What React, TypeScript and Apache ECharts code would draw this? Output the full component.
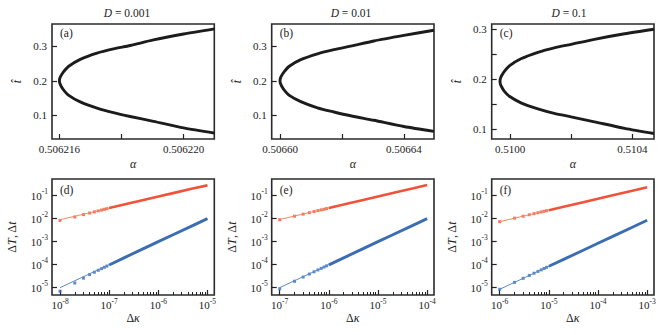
import React, { useEffect, useRef } from 'react';
import * as echarts from 'echarts';

const FONT = 'Liberation Serif';
const INK = '#222';
const RED = '#f0533a';
const RED_FIT = '#f48a62';
const BLUE = '#3a6db3';
const BLUE_FIT = '#5a8bcc';

// ---- top row: fold curves t-hat vs alpha ----
const titles = ['0.001', '0.01', '0.1'];
const panelTags = ['(a)', '(b)', '(c)', '(d)', '(e)', '(f)'];

const alphaA = [0.506216, 0.506216015, 0.50621605, 0.50621613, 0.5062163, 0.50621667, 0.50621721, 0.50621774, 0.50621828, 0.50621903, 0.50622, 0.506221];
const tUpperA = [0.2015, 0.208, 0.215, 0.226, 0.242, 0.262, 0.28, 0.292, 0.302, 0.318, 0.335, 0.35];
const tLowerA = [0.1985, 0.192, 0.185, 0.174, 0.158, 0.139, 0.121, 0.108, 0.097, 0.083, 0.064, 0.049];

const alphaB = [0.5066, 0.50660015, 0.5066005, 0.5066013, 0.506603, 0.5066067, 0.5066121, 0.5066174, 0.5066228, 0.5066303, 0.50664, 0.5066497];
const tUpperB = [0.2015, 0.208, 0.215, 0.226, 0.242, 0.261, 0.278, 0.29, 0.3, 0.315, 0.331, 0.346];
const tLowerB = [0.1985, 0.192, 0.185, 0.174, 0.158, 0.14, 0.122, 0.11, 0.099, 0.086, 0.068, 0.054];

const alphaC = [0.509967, 0.5099685, 0.509972, 0.50998, 0.5099977, 0.5100355, 0.510091, 0.5101445, 0.5101995, 0.510276, 0.510375, 0.510471];
const tUpperC = [0.197, 0.202, 0.207, 0.215, 0.227, 0.241, 0.254, 0.263, 0.27, 0.28, 0.291, 0.3];
const tLowerC = [0.195, 0.19, 0.185, 0.177, 0.166, 0.153, 0.141, 0.132, 0.125, 0.115, 0.102, 0.0915];

const topX = [
  { min: 0.50621576, max: 0.50622099, ticks: [0.506216, 0.506218, 0.50622], labels: [0.506216, 0.50622], digits: 6 },
  { min: 0.50659731, max: 0.50664973, ticks: [0.5066, 0.50662, 0.50664], labels: [0.5066, 0.50664], digits: 5 },
  { min: 0.5099398, max: 0.510471, ticks: [0.51, 0.5102, 0.5104], labels: [0.51, 0.5104], digits: 4 },
];
const topY = [
  { min: 0.032, max: 0.364, ticks: [0.1, 0.2, 0.3], labels: [0.1, 0.2, 0.3] },
  { min: 0.032, max: 0.364, ticks: [0.1, 0.2, 0.3], labels: [0.1, 0.2, 0.3] },
  { min: 0.0806, max: 0.3106, ticks: [0.1, 0.15, 0.2, 0.25, 0.3], labels: [0.1, 0.2, 0.3] },
];
const topCurves = [
  { alpha: alphaA, up: tUpperA, low: tLowerA },
  { alpha: alphaB, up: tUpperB, low: tLowerB },
  { alpha: alphaC, up: tUpperC, low: tLowerC },
];

// ---- bottom row: scaling of Delta T, Delta t vs Delta kappa ----
const kappaDotsD = [1e-8, 2e-8, 3e-8, 4e-8, 5e-8, 6e-8, 7e-8, 8e-8, 9e-8];
const kappaBandD = [1e-7, 2e-7, 5e-7, 1e-6, 2e-6, 5e-6, 1e-5];
const redDotsD = [8.4e-3, 1.18e-2, 1.5e-2, 1.76e-2, 1.98e-2, 2.18e-2, 2.37e-2, 2.55e-2, 2.72e-2];
const redBandD = [2.88e-2, 4.1e-2, 6.5e-2, 9.1e-2, 0.129, 0.203, 0.28];
const blueDotsD = [7e-6, 1.6e-5, 2.6e-5, 3.7e-5, 4.7e-5, 5.7e-5, 6.7e-5, 7.7e-5, 8.7e-5];
const blueBandD = [9.7e-5, 1.98e-4, 5e-4, 1e-3, 2e-3, 5e-3, 1e-2];
const fitKappaD = [1e-8, 1e-5];
const redFitD = [9.0e-3, 0.28];
const blueFitD = [1e-5, 1e-2];

const kappaDotsE = [1e-7, 2e-7, 3e-7, 4e-7, 5e-7, 6e-7, 7e-7, 8e-7, 9e-7];
const kappaBandE = [1e-6, 2e-6, 5e-6, 1e-5, 2e-5, 5e-5, 1e-4];
const redDotsE = [9e-3, 1.28e-2, 1.57e-2, 1.82e-2, 2.03e-2, 2.23e-2, 2.41e-2, 2.57e-2, 2.73e-2];
const redBandE = [2.9e-2, 4.1e-2, 6.5e-2, 9.2e-2, 0.13, 0.205, 0.29];
const blueDotsE = [9e-6, 1.9e-5, 2.9e-5, 3.9e-5, 4.9e-5, 5.9e-5, 6.9e-5, 7.9e-5, 8.9e-5];
const blueBandE = [9.8e-5, 1.98e-4, 5e-4, 1e-3, 2e-3, 5e-3, 1e-2];
const fitKappaE = [1e-7, 1e-4];
const redFitE = [9.2e-3, 0.29];
const blueFitE = [1e-5, 1e-2];

const kappaDotsF = [1e-6, 2e-6, 3e-6, 4e-6, 5e-6, 6e-6, 7e-6, 8e-6, 9e-6];
const kappaBandF = [1e-5, 2e-5, 5e-5, 1e-4, 2e-4, 5e-4, 1e-3];
const redDotsF = [7.4e-3, 1.05e-2, 1.28e-2, 1.48e-2, 1.65e-2, 1.81e-2, 1.96e-2, 2.09e-2, 2.22e-2];
const redBandF = [2.34e-2, 3.3e-2, 5.2e-2, 7.4e-2, 0.105, 0.165, 0.234];
const blueDotsF = [8.5e-6, 1.7e-5, 2.55e-5, 3.4e-5, 4.25e-5, 5.1e-5, 5.95e-5, 6.8e-5, 7.65e-5];
const blueBandF = [8.5e-5, 1.7e-4, 4.25e-4, 8.5e-4, 1.7e-3, 4.25e-3, 8.5e-3];
const fitKappaF = [1e-6, 1e-3];
const redFitF = [7.4e-3, 0.234];
const blueFitF = [8.5e-6, 8.5e-3];

const bottomPanels = [
  { kMin: 6.87e-9, kMax: 1.38e-5, decades: [-8, -7, -6], kDots: kappaDotsD, kBand: kappaBandD, rDots: redDotsD, rBand: redBandD, bDots: blueDotsD, bBand: blueBandD, kFit: fitKappaD, rFit: redFitD, bFit: blueFitD },
  { kMin: 6.87e-8, kMax: 1.38e-4, decades: [-7, -6, -5], kDots: kappaDotsE, kBand: kappaBandE, rDots: redDotsE, rBand: redBandE, bDots: blueDotsE, bBand: blueBandE, kFit: fitKappaE, rFit: redFitE, bFit: blueFitE },
  { kMin: 6.87e-7, kMax: 1.38e-3, decades: [-6, -5, -4], kDots: kappaDotsF, kBand: kappaBandF, rDots: redDotsF, rBand: redBandF, bDots: blueDotsF, bBand: blueBandF, kFit: fitKappaF, rFit: redFitF, bFit: blueFitF },
];
const bottomYMin = 4.8e-6;
const bottomYMax = 0.53;

const lefts = [52, 271.7, 491.7];
const gridW = 162.3;
const titleX = [127, 351, 569];

const zip = (xs: number[], ys: number[]) => xs.map((x, i) => [x, ys[i]]);

const powRich = {
  b: { fontFamily: FONT, fontSize: 11, color: INK },
  s: { fontFamily: FONT, fontSize: 7.5, color: INK, padding: [0, 0, 8, 0] },
};
const powFormatter = (v: number) => `{b|10}{s|${Math.round(Math.log10(v))}}`;

export default function App() {
  const ref = useRef<HTMLDivElement>(null);
  useEffect(() => {
    if (!ref.current) return;
    const chart = echarts.init(ref.current, undefined, { renderer: 'svg' });

    const grids: any[] = [];
    const xAxes: any[] = [];
    const yAxes: any[] = [];
    const series: any[] = [];

    const tickStyle = { show: true, inside: true, length: 5, lineStyle: { color: INK, width: 1.2 } };

    // top row
    for (let i = 0; i < 3; i++) {
      grids.push({ left: lefts[i], top: 24, width: gridW, height: 115, show: true, borderColor: '#2b2b2b', borderWidth: 1.6, backgroundColor: 'transparent' });
      const tx = topX[i];
      xAxes.push({
        type: 'value', gridIndex: i, min: tx.min, max: tx.max, position: 'bottom',
        axisLine: { show: false }, splitLine: { show: false },
        axisTick: { ...tickStyle, customValues: tx.ticks },
        axisLabel: { customValues: tx.labels, formatter: (v: number) => v.toFixed(tx.digits), fontFamily: FONT, fontSize: 11, color: INK, margin: 4 },
        name: 'α', nameLocation: 'middle', nameGap: 19,
        nameTextStyle: { fontFamily: FONT, fontStyle: 'italic', fontSize: 12, color: INK },
      });
      const ty = topY[i];
      yAxes.push({
        type: 'value', gridIndex: i, min: ty.min, max: ty.max,
        axisLine: { show: false }, splitLine: { show: false },
        axisTick: { ...tickStyle, customValues: ty.ticks },
        axisLabel: { customValues: ty.labels, formatter: (v: number) => v.toFixed(1), fontFamily: FONT, fontSize: 11, color: INK, margin: 5 },
        name: 't̂', nameLocation: 'middle', nameGap: 29, nameRotate: 90,
        nameTextStyle: { fontFamily: FONT, fontStyle: 'italic', fontSize: 12, color: INK },
      });
      const c = topCurves[i];
      // one continuous fold: lower branch (from its far end to the tip), then upper branch
      const lower = zip(c.alpha, c.low).reverse();
      const upper = zip(c.alpha, c.up);
      series.push({
        type: 'line', xAxisIndex: i, yAxisIndex: i, data: lower.concat(upper),
        showSymbol: false, smooth: 0.25, silent: true,
        lineStyle: { color: '#1c1c1c', width: 2.9, cap: 'butt', join: 'round' },
      });
    }

    // bottom row
    for (let i = 0; i < 3; i++) {
      const g = 3 + i;
      const p = bottomPanels[i];
      grids.push({ left: lefts[i], top: 179, width: gridW, height: 116, show: true, borderColor: '#2b2b2b', borderWidth: 1.6, backgroundColor: 'transparent' });
      xAxes.push({
        type: 'log', gridIndex: g, min: p.kMin, max: p.kMax, position: 'bottom',
        axisLine: { show: false }, splitLine: { show: false }, minorTick: { show: false },
        axisTick: { ...tickStyle },
        axisLabel: { formatter: powFormatter, rich: powRich, showMinLabel: false, showMaxLabel: false, margin: 2 },
        name: '{n|Δ}{i|κ}', nameLocation: 'middle', nameGap: 17,
        nameTextStyle: {
          fontFamily: FONT, fontSize: 12, color: INK,
          rich: { n: { fontFamily: FONT, fontSize: 12, color: INK }, i: { fontFamily: FONT, fontSize: 12, fontStyle: 'italic', color: INK } },
        },
      });
      yAxes.push({
        type: 'log', gridIndex: g, min: bottomYMin, max: bottomYMax,
        axisLine: { show: false }, splitLine: { show: false },
        axisTick: { ...tickStyle },
        axisLabel: { formatter: powFormatter, rich: powRich, showMinLabel: false, showMaxLabel: false, margin: 4 },
        name: '{n|Δ}{i|T}{n|, Δ}{i|t}', nameLocation: 'middle', nameGap: 34, nameRotate: 90,
        nameTextStyle: {
          fontFamily: FONT, fontSize: 12, color: INK,
          rich: { n: { fontFamily: FONT, fontSize: 12, color: INK }, i: { fontFamily: FONT, fontSize: 12, fontStyle: 'italic', color: INK } },
        },
      });
      series.push(
        { type: 'line', xAxisIndex: 3 + i, yAxisIndex: g, data: zip(p.kFit, p.rFit), showSymbol: false, silent: true, lineStyle: { color: RED_FIT, width: 1 } },
        { type: 'line', xAxisIndex: 3 + i, yAxisIndex: g, data: zip(p.kFit, p.bFit), showSymbol: false, silent: true, lineStyle: { color: BLUE_FIT, width: 1 } },
        { type: 'line', xAxisIndex: 3 + i, yAxisIndex: g, data: zip(p.kBand, p.rBand), showSymbol: false, silent: true, lineStyle: { color: RED, width: 2.6 } },
        { type: 'line', xAxisIndex: 3 + i, yAxisIndex: g, data: zip(p.kBand, p.bBand), showSymbol: false, silent: true, lineStyle: { color: BLUE, width: 2.9 } },
        { type: 'scatter', xAxisIndex: 3 + i, yAxisIndex: g, data: zip(p.kDots, p.rDots), symbol: 'rect', symbolSize: 3, silent: true, itemStyle: { color: RED } },
        { type: 'scatter', xAxisIndex: 3 + i, yAxisIndex: g, data: zip(p.kDots, p.bDots), symbol: 'rect', symbolSize: 3, silent: true, itemStyle: { color: BLUE } },
      );
    }

    // minor ticks of the log x axes (overlay axes in exponent space)
    for (let i = 0; i < 3; i++) {
      const p = bottomPanels[i];
      const minor: number[] = [];
      for (const d of p.decades) for (let k = 2; k <= 9; k++) minor.push(d + Math.log10(k));
      xAxes.push({
        type: 'value', gridIndex: 3 + i, min: Math.log10(p.kMin), max: Math.log10(p.kMax), position: 'bottom',
        axisLine: { show: false }, splitLine: { show: false }, axisLabel: { show: false },
        axisTick: { show: true, inside: true, length: 3, customValues: minor, lineStyle: { color: INK, width: 1 } },
      });
    }

    const graphics: any[] = [];
    for (let i = 0; i < 3; i++) {
      graphics.push({
        type: 'text', x: titleX[i], y: 13,
        style: {
          text: `{i|D} = ${titles[i]}`, align: 'center', verticalAlign: 'middle',
          rich: {
            i: { fontFamily: FONT, fontSize: 11.5, fontStyle: 'italic', fill: INK },
          },
          fontFamily: FONT, fontSize: 11.5, fill: INK,
        },
      });
    }
    for (let i = 0; i < 6; i++) {
      const row = Math.floor(i / 3);
      graphics.push({
        type: 'text', x: lefts[i % 3] + 8, y: row === 0 ? 33 : 190,
        style: { text: panelTags[i], align: 'left', verticalAlign: 'middle', fontFamily: FONT, fontSize: 11.5, fill: INK },
      });
    }

    chart.setOption({
      animation: false,
      backgroundColor: '#fff',
      grid: grids,
      xAxis: xAxes,
      yAxis: yAxes,
      series,
      graphic: graphics,
    });
    return () => chart.dispose();
  }, []);
  return <div ref={ref} style={{ position: 'fixed', left: 0, top: 0, width: 670, height: 335 }} />;
}
